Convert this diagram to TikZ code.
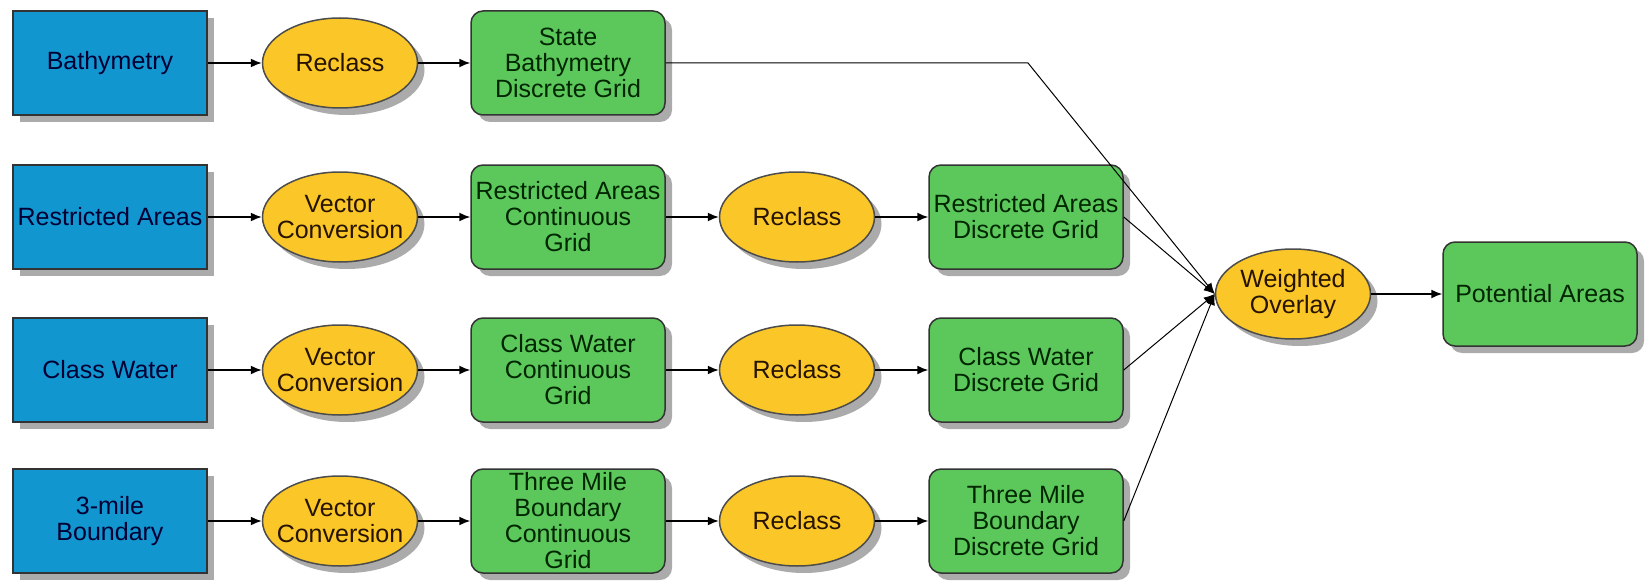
\documentclass[tikz,border=0pt]{standalone}
\usepackage{fontspec}
\setmainfont{Liberation Sans}
\usetikzlibrary{shapes.geometric, shadows, arrows.meta}
\definecolor{dataBlue}{RGB}{18,150,208}
\definecolor{gridGreen}{RGB}{92,200,92}
\definecolor{toolYellow}{RGB}{250,198,40}

\begin{document}
\begin{tikzpicture}[x=1pt, y=-1pt, font=\fontsize{25}{26}\selectfont, shd/.style={drop shadow={shadow xshift=7pt, shadow yshift=-7pt, fill=black!55, opacity=0.6}}, data/.style={rectangle, draw=black!80, line width=1.5pt, fill=dataBlue, text=black!80!blue, minimum width=194pt, minimum height=104pt, inner xsep=2pt, inner ysep=0pt, align=center, shd}, grid/.style={rectangle, rounded corners=12pt, draw=black!80, line width=1.5pt, fill=gridGreen, text=black!85!green, minimum width=194pt, minimum height=104pt, inner xsep=2pt, inner ysep=0pt, align=center, shd}, tool/.style={ellipse, draw=black!70, line width=1.5pt, fill=toolYellow, text=black!85!orange, minimum width=155pt, minimum height=90pt, inner xsep=-16pt, inner ysep=0pt, align=center, shd}, n/.style={-{Latex[length=11pt, width=9pt]}, line width=1.5pt}, w/.style={-{Latex[length=11pt, width=9pt]}, line width=1pt}]
                \useasboundingbox (0,0) rectangle (1645,583);
                % nodes
                \node[data] (bath)  at (110,63)  {Bathymetry};
                \node[data] (rest)  at (110,217) {Restricted Areas};
                \node[data] (water) at (110,370) {Class Water};
                \node[data] (mile)  at (110,521) {3-mile\\Boundary};
                \node[tool] (rc1) at (340,63)  {Reclass};
                \node[tool] (vc2) at (340,217) {Vector\\Conversion};
                \node[tool] (vc3) at (340,370) {Vector\\Conversion};
                \node[tool] (vc4) at (340,521) {Vector\\Conversion};
                \node[grid] (sbg) at (568,63)  {State\\Bathymetry\\Discrete Grid};
                \node[grid] (rcg) at (568,217) {Restricted Areas\\Continuous\\Grid};
                \node[grid] (wcg) at (568,370) {Class Water\\Continuous\\Grid};
                \node[grid] (mcg) at (568,521) {Three Mile\\Boundary\\Continuous\\Grid};
                \node[tool] (rc2) at (797,217) {Reclass};
                \node[tool] (rc3) at (797,370) {Reclass};
                \node[tool] (rc4) at (797,521) {Reclass};
                \node[grid] (rdg) at (1026,217) {Restricted Areas\\Discrete Grid};
                \node[grid] (wdg) at (1026,370) {Class Water\\Discrete Grid};
                \node[grid] (mdg) at (1026,521) {Three Mile\\Boundary\\Discrete Grid};
                \node[tool] (wo) at (1293,294) {Weighted\\Overlay};
                \node[grid] (pa) at (1540,294) {Potential Areas};
                \coordinate (bend) at (1028,63);
                % edges
                \draw [n] (bath) -- (rc1);
                \draw [n] (rc1) -- (sbg);
                \draw [n] (rest) -- (vc2);
                \draw [n] (vc2) -- (rcg);
                \draw [n] (rcg) -- (rc2);
                \draw [n] (rc2) -- (rdg);
                \draw [n] (water) -- (vc3);
                \draw [n] (vc3) -- (wcg);
                \draw [n] (wcg) -- (rc3);
                \draw [n] (rc3) -- (wdg);
                \draw [n] (mile) -- (vc4);
                \draw [n] (vc4) -- (mcg);
                \draw [n] (mcg) -- (rc4);
                \draw [n] (rc4) -- (mdg);
                \draw [w] (sbg.east) -- (bend) -- (wo.west);
                \draw [w] (rdg.east) -- (wo.west);
                \draw [w] (wdg.east) -- (wo.west);
                \draw [w] (mdg.east) -- (wo.west);
                \draw [n] (wo) -- (pa);
            \end{tikzpicture}
\end{document}
